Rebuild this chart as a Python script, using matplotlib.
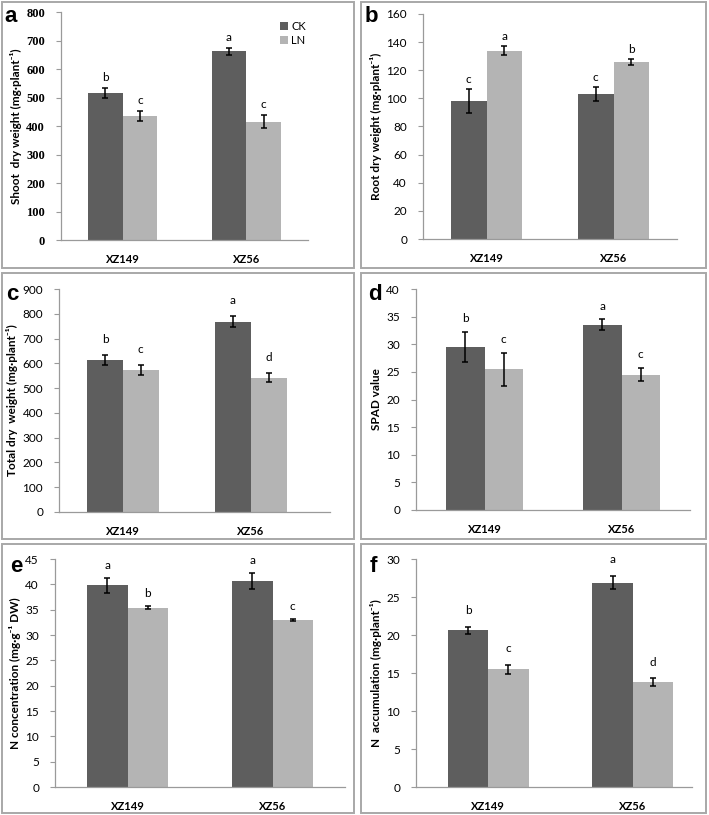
import matplotlib
matplotlib.use("Agg")
import matplotlib.pyplot as plt
from matplotlib.patches import Rectangle
import numpy as np

plt.rcParams['font.family'] = ['Lato', 'DejaVu Sans']

W, H = 709, 815
cultivars = ['XZ149', 'XZ56']
series = ['CK', 'LN']

# Panel a: shoot dry weight
shoot_ck = [515, 662]; shoot_ck_err = [18, 12]
shoot_ln = [435, 415]; shoot_ln_err = [18, 22]
shoot_letters = [['b', 'a'], ['c', 'c']]
# Panel b: root dry weight
root_ck = [98, 103]; root_ck_err = [8.5, 5]
root_ln = [134, 126]; root_ln_err = [3, 2]
root_letters = [['c', 'c'], ['a', 'b']]
# Panel c: total dry weight
total_ck = [615, 768]; total_ck_err = [20, 22]
total_ln = [572, 542]; total_ln_err = [20, 17]
total_letters = [['b', 'a'], ['c', 'd']]
# Panel d: SPAD
spad_ck = [29.5, 33.5]; spad_ck_err = [2.8, 1.0]
spad_ln = [25.5, 24.5]; spad_ln_err = [3.0, 1.2]
spad_letters = [['b', 'a'], ['c', 'c']]
# Panel e: N concentration
nconc_ck = [39.8, 40.6]; nconc_ck_err = [1.5, 1.6]
nconc_ln = [35.4, 33.0]; nconc_ln_err = [0.3, 0.2]
nconc_letters = [['a', 'a'], ['b', 'c']]
# Panel f: N accumulation
nacc_ck = [20.6, 26.9]; nacc_ck_err = [0.5, 0.9]
nacc_ln = [15.5, 13.8]; nacc_ln_err = [0.6, 0.5]
nacc_letters = [['b', 'a'], ['c', 'd']]

panels = [
    dict(tag='a', ck=shoot_ck, cke=shoot_ck_err, ln=shoot_ln, lne=shoot_ln_err, let=shoot_letters,
         ylabel='Shoot  dry weight (mg·plant⁻¹)', ymax=800, step=100,
         ax=(61, 308, 12, 240), box=(2, 2, 354, 268), tagpos=(4, 17), xr=1.5, off=0.046, serif=True, legend=True),
    dict(tag='b', ck=root_ck, cke=root_ck_err, ln=root_ln, lne=root_ln_err, let=root_letters,
         ylabel='Root dry weight (mg·plant⁻¹)', ymax=160, step=20,
         ax=(423, 677, 14, 239), box=(361, 2, 706, 268), tagpos=(365, 17), xr=1.5, off=0.044),
    dict(tag='c', ck=total_ck, cke=total_ck_err, ln=total_ln, lne=total_ln_err, let=total_letters,
         ylabel='Total dry  weight (mg·plant⁻¹)', ymax=900, step=100,
         ax=(59, 330, 289, 512), box=(2, 273, 354, 539), tagpos=(6, 294), xr=1.62, off=0.07),
    dict(tag='d', ck=spad_ck, cke=spad_ck_err, ln=spad_ln, lne=spad_ln_err, let=spad_letters,
         ylabel='SPAD value', ymax=40, step=5,
         ax=(416, 690, 289, 510), box=(361, 273, 706, 539), tagpos=(368, 294), xr=1.5, off=0.06),
    dict(tag='e', ck=nconc_ck, cke=nconc_ck_err, ln=nconc_ln, lne=nconc_ln_err, let=nconc_letters,
         ylabel='N concentration (mg·g⁻¹ DW)', ymax=45, step=5,
         ax=(55, 345, 559, 787), box=(2, 544, 354, 813), tagpos=(10, 567), xr=1.5, off=0.055),
    dict(tag='f', ck=nacc_ck, cke=nacc_ck_err, ln=nacc_ln, lne=nacc_ln_err, let=nacc_letters,
         ylabel='N  accumulation (mg·plant⁻¹)', ymax=30, step=5,
         ax=(416, 692, 559, 787), box=(361, 544, 706, 813), tagpos=(370, 567), xr=1.41, off=0.07),
]

fig = plt.figure(figsize=(W / 100, H / 100), dpi=100)
dark = '#5e5e5e'
light = '#b4b4b4'
axis_col = '#9a9a9a'
bw = 0.28
x = np.arange(len(cultivars))

for p in panels:
    bx0, by0, bx1, by1 = p['box']
    fig.patches.append(Rectangle((bx0 / W, 1 - by1 / H), (bx1 - bx0) / W, (by1 - by0) / H,
                                 transform=fig.transFigure, fill=False, edgecolor='#a8a8a8', lw=1.4))
    l, r, t, b = p['ax']
    ax = fig.add_axes([l / W, 1 - b / H, (r - l) / W, (b - t) / H])
    ekw = dict(ecolor='black', elinewidth=1.1, capsize=2.5, capthick=1.1)
    ax.bar(x - bw / 2, p['ck'], bw, color=dark, yerr=p['cke'], error_kw=ekw, label='CK', zorder=2)
    ax.bar(x + bw / 2, p['ln'], bw, color=light, yerr=p['lne'], error_kw=ekw, label='LN', zorder=2)
    ax.set_xlim(-0.5, p['xr'])
    ax.set_ylim(0, p['ymax'])
    ax.set_yticks(np.arange(0, p['ymax'] + p['step'] / 2, p['step']))
    ax.set_xticks(x)
    ax.set_xticklabels(cultivars, fontsize=8, fontweight='bold')
    ax.tick_params(axis='x', length=0, pad=10)
    ax.tick_params(axis='y', length=3.5, color=axis_col, width=0.8, pad=8, labelsize=8.5)
    if p.get('serif'):
        for lab in ax.get_yticklabels():
            lab.set_family('Liberation Serif')
            lab.set_fontweight('bold')
            lab.set_fontsize(9)
    for s in ['top', 'right']:
        ax.spines[s].set_visible(False)
    for s in ['left', 'bottom']:
        ax.spines[s].set_color(axis_col)
        ax.spines[s].set_linewidth(0.9)
    ax.set_ylabel(p['ylabel'], fontsize=8.5, fontweight='bold', labelpad=3)
    off = p['off'] * p['ymax']
    for i in range(len(cultivars)):
        ax.text(x[i] - bw / 2, p['ck'][i] + p['cke'][i] + off, p['let'][0][i],
                ha='center', va='center', fontsize=8.5)
        ax.text(x[i] + bw / 2, p['ln'][i] + p['lne'][i] + off, p['let'][1][i],
                ha='center', va='center', fontsize=8.5)
    if p.get('legend'):
        ax.legend(loc='upper left', bbox_to_anchor=(0.86, 0.99), frameon=False, fontsize=8,
                  handlelength=0.7, handleheight=0.7, handletextpad=0.3, labelspacing=0.25,
                  borderpad=0.1)
    tx, ty = p['tagpos']
    fig.text(tx / W, 1 - ty / H, p['tag'], fontsize=16, fontweight='bold', family='Liberation Sans',
             ha='left', va='center')

fig.savefig('out.png', dpi=100)
